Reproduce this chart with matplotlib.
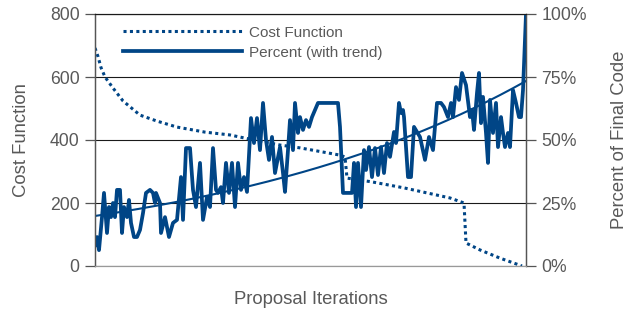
import numpy as np
import matplotlib
matplotlib.use("Agg")
import matplotlib.pyplot as plt
from matplotlib.ticker import FuncFormatter

# ---------------- data ----------------
cost_iter = [0, 3, 6, 10, 18, 28, 45, 62, 82, 110, 135, 150, 185, 205, 245, 250,
             252, 277, 309, 355, 369, 371, 385, 405, 427]
cost_vals = [692, 665, 630, 600, 565, 524, 479, 460, 441, 425, 416, 406, 384, 375, 352, 346,
             279, 267, 248, 216, 200, 73, 51, 25, 0]

pct_iter = [0, 2, 4, 7, 9, 12, 14, 16, 18, 20, 22, 25, 27, 29, 32, 34, 36, 39, 42, 45,
            48, 51, 55, 58, 60, 61, 65, 66, 70, 74, 78, 82, 86, 88, 91, 95, 98, 101, 105,
            108, 112, 115, 118, 121, 123, 126, 128, 131, 134, 137, 140, 143, 146, 149, 152,
            156, 159, 162, 165, 168, 171, 174, 177, 180, 185, 188, 190, 193, 195, 198, 200,
            203, 205, 208, 211, 214, 217, 223, 243, 245, 248, 257, 259, 261, 263, 266, 269,
            271, 274, 277, 280, 283, 286, 289, 292, 295, 299, 301, 304, 306, 308, 309, 313,
            316, 319, 325, 330, 334, 338, 342, 346, 349, 353, 356, 358, 361, 364, 367, 371,
            375, 377, 379, 382, 384, 386, 388, 391, 393, 395, 398, 401, 403, 406, 408, 410,
            413, 415, 418, 421, 424, 426, 428, 431]
pct_vals = [8.3, 11.5, 6.3, 19.4, 29.0, 13.1, 23.4, 19.4, 25.0, 19.4, 30.2, 30.2, 13.1, 23.4,
            19.4, 26.2, 17.1, 11.5, 11.5, 14.3, 21.0, 29.0, 30.2, 29.0, 25.0, 29.0, 25.0, 13.1,
            19.4, 11.5, 17.1, 18.3, 35.3, 18.3, 46.8, 46.8, 30.2, 23.4, 40.9, 18.3, 27.4, 23.4,
            46.8, 30.2, 29.0, 31.3, 25.0, 40.9, 29.0, 40.9, 23.4, 40.9, 30.2, 35.3, 29.4, 58.7,
            48.8, 58.7, 46.0, 64.7, 50.0, 42.1, 51.2, 36.9, 47.2, 36.9, 29.4, 46.0, 57.9, 46.0,
            64.7, 52.8, 59.1, 54.0, 57.9, 55.2, 59.1, 64.7, 64.7, 55.2, 29.0, 29.0, 40.9, 23.4,
            40.9, 23.4, 46.0, 38.1, 47.2, 35.3, 46.8, 36.1, 47.2, 36.9, 48.8, 43.3, 53.2, 48.8,
            64.7, 60.7, 61.9, 59.1, 35.3, 35.3, 55.2, 51.2, 42.1, 51.2, 46.0, 64.7, 64.7, 63.1,
            59.1, 64.7, 59.1, 71.0, 65.9, 76.6, 71.8, 59.1, 61.9, 54.0, 68.7, 76.6, 56.7, 67.1,
            52.8, 40.9, 65.9, 52.8, 64.7, 47.2, 59.1, 52.8, 47.2, 52.8, 47.2, 69.8, 64.7, 59.1,
            59.1, 69.8, 100.0]

cost_ticks = [0, 200, 400, 600, 800]
pct_ticks = [0, 25, 50, 75, 100]

# ---------------- style ----------------
BLUE = "#004586"
TXT = "#595959"
plt.rcParams['font.family'] = ['Liberation Sans', 'DejaVu Sans']

fig = plt.figure(figsize=(6.33, 3.10), dpi=100)
ax = fig.add_axes([95 / 633, 44 / 310, 431 / 633, 252 / 310])
ax2 = ax.twinx()

# cost function (dotted)
ax.plot(cost_iter, cost_vals, color=BLUE, lw=2.2, linestyle=(0, (1, 1.1)),
        dash_capstyle='butt', label="Cost Function")

# percent line + exponential trend (fit from data)
ax2.plot(pct_iter, pct_vals, color=BLUE, lw=2.7, solid_joinstyle='round',
         label="Percent (with trend)")
x = np.array(pct_iter, dtype=float)
b, ln_a = np.polyfit(x, np.log(np.array(pct_vals)), 1)
xt = np.linspace(x.min(), x.max(), 200)
ax2.plot(xt, np.exp(ln_a + b * xt), color=BLUE, lw=1.5)

ax.set_xlim(0, 431)
ax.set_ylim(0, 800)
ax2.set_ylim(0, 100)
ax.set_xticks([])
ax.set_yticks(cost_ticks)
ax2.set_yticks(pct_ticks)
ax2.yaxis.set_major_formatter(FuncFormatter(lambda v, p: f"{int(v)}%"))

ax.grid(axis='y', color='#1a1a1a', lw=0.8)
ax.set_axisbelow(True)

for a in (ax, ax2):
    a.spines['top'].set_color('#1a1a1a')
    a.spines['top'].set_linewidth(0.8)
    a.spines['bottom'].set_color('#999999')
    a.spines['bottom'].set_linewidth(0.8)
    a.spines['left'].set_color('#555555')
    a.spines['right'].set_color('#555555')
    a.spines['left'].set_linewidth(0.9)
    a.spines['right'].set_linewidth(0.9)
    a.tick_params(axis='y', length=7, width=0.9, color='#555555', labelcolor=TXT,
                  labelsize=12.7, pad=4)

ax.set_ylabel("Cost Function", color=TXT, fontsize=13.3, va='center')
ax.yaxis.set_label_coords((21 - 95) / 431, 0.5)
ax2.set_ylabel("Percent of Final Code", color=TXT, fontsize=13.3, va='center')
ax2.yaxis.set_label_coords((620 - 95) / 431, 0.5)
ax.set_xlabel("Proposal Iterations", color=TXT, fontsize=13.3, va='center')
ax.xaxis.set_label_coords(0.5, (266 - 299) / 252)

h1, l1 = ax.get_legend_handles_labels()
h2, l2 = ax2.get_legend_handles_labels()
leg = ax2.legend(h1 + h2, l1 + l2, loc='upper left', bbox_to_anchor=(0.04, 0.996),
                 frameon=False, fontsize=11, handlelength=7.8, handletextpad=0.45,
                 labelspacing=0.4, borderaxespad=0.3)
for t in leg.get_texts():
    t.set_color(TXT)

fig.savefig("out.png", dpi=100)
